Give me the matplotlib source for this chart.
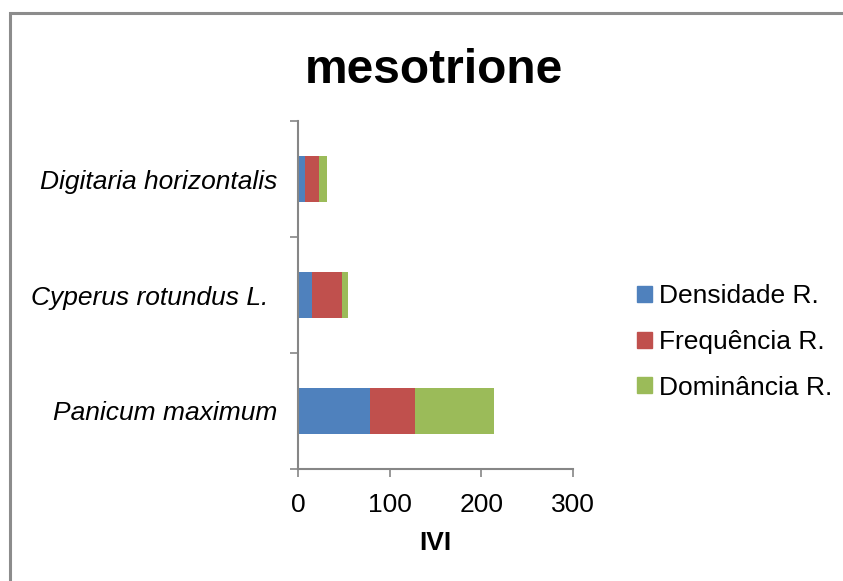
import matplotlib
matplotlib.use("Agg")
import matplotlib.pyplot as plt
import matplotlib.transforms as mtransforms
from matplotlib.patches import Rectangle
import numpy as np

plt.rcParams['font.family'] = ['Liberation Sans', 'DejaVu Sans']

categories = ["Panicum maximum", "Cyperus rotundus L.", "Digitaria horizontalis"]
series_names = ["Densidade R.", "Frequência R.", "Dominância R."]
densidade = [78, 15, 8]
frequencia = [50, 33, 15]
dominancia = [86, 6, 9]
colors = ["#4F81BD", "#C0504D", "#9BBB59"]
xticks = [0, 100, 200, 300]

fig = plt.figure(figsize=(8.43, 5.81), dpi=100)
ax = fig.add_axes([298/843, 1-469/581, (573-298)/843, (469-121)/581])

y = np.arange(len(categories))
left = np.zeros(len(categories))
for vals, name, c in zip([densidade, frequencia, dominancia], series_names, colors):
    ax.barh(y, vals, left=left, height=0.4, color=c, label=name, edgecolor='none')
    left += np.array(vals)

ax.set_xlim(0, 300)
ax.set_ylim(-0.5, 2.5)
ax.set_xticks(xticks)
ax.set_xticklabels([str(t) for t in xticks], fontsize=19)
ax.set_yticks(y)
ax.set_yticklabels(categories, fontsize=19, style='italic')
ax.set_yticks([-0.5, 0.5, 1.5, 2.5], minor=True)
ax.tick_params(axis='y', which='major', length=0, pad=15)
ax.tick_params(axis='y', which='minor', length=6, width=1.2, color='#868686')
ax.tick_params(axis='x', which='major', length=6, width=1.2, color='#868686', pad=11)
for s in ['top', 'right']:
    ax.spines[s].set_visible(False)
for s in ['left', 'bottom']:
    ax.spines[s].set_color('#868686')
    ax.spines[s].set_linewidth(1.5)

# Cyperus label sits slightly further left in the reference
lab = ax.get_yticklabels()[1]
lab.set_transform(lab.get_transform() + mtransforms.ScaledTranslation(-9/100, 0, fig.dpi_scale_trans))

ax.set_xlabel("IVI", fontsize=19, fontweight='bold', labelpad=10)

fig.text(434/843, 1-83/581, "mesotrione", fontsize=34.5, fontweight='bold',
         ha='center', va='baseline')

handles = [Rectangle((0, 0), 1, 1, color=c) for c in colors]
fig.legend(handles, series_names, loc='center left',
           bbox_to_anchor=(637/843, 1-342/581), frameon=False, fontsize=19,
           handlelength=0.55, handleheight=0.55, handletextpad=0.28,
           labelspacing=0.82, borderaxespad=0, borderpad=0)

border = Rectangle((10/843, -0.1), 1.2, 1 - 13/581 + 0.1, transform=fig.transFigure,
                   fill=False, edgecolor='#8C8C8C', linewidth=2.2)
fig.patches.append(border)

fig.savefig("out.png", dpi=100, facecolor='white')
